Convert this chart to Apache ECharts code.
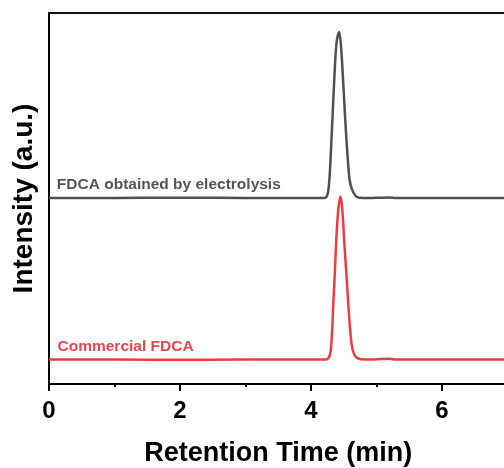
<!DOCTYPE html>
<html><head><meta charset="utf-8">
<script src="https://cdn.jsdelivr.net/npm/echarts@6/dist/echarts.min.js"></script>
<style>html,body{margin:0;padding:0;background:#fff}#c{width:504px;height:468px}</style>
</head><body><div id="c"></div>
<script>
// Retention time (min) and intensity (a.u., traces offset vertically as in the figure)
var grayTime = [0, 1, 2, 3, 4, 4.2, 4.25, 4.28, 4.31, 4.33, 4.36, 4.39, 4.43, 4.46, 4.49, 4.52, 4.55, 4.59, 4.63, 4.7, 4.8, 5.2, 5.3, 6, 7];
var grayIntensity = [186, 186, 186.3, 186, 186, 186, 189, 204, 241, 269, 311, 341, 352, 336, 304, 268, 236, 204, 194, 187, 186, 186.6, 186, 186, 186];
var redTime = [0, 1, 2, 3, 4, 4.22, 4.28, 4.31, 4.34, 4.36, 4.39, 4.42, 4.45, 4.48, 4.51, 4.545, 4.58, 4.62, 4.66, 4.72, 4.82, 5.2, 5.3, 6, 7];
var redIntensity = [24.5, 24.5, 24.2, 24.5, 24.5, 24.5, 27.5, 39.5, 79.5, 105.5, 149.5, 176.5, 187.5, 172.5, 139.5, 105.5, 69.5, 39.5, 29.5, 25.5, 24.5, 25.2, 24.5, 24.5, 24.5];
var xTicks = [0, 2, 4, 6];
var seriesNames = ['FDCA obtained by electrolysis', 'Commercial FDCA'];
var labelAnchors = [[0.12, 199.5], [0.13, 37.5]];

function pairs(xs, ys) { return xs.map(function (x, i) { return [x, ys[i]]; }); }

var chart = echarts.init(document.getElementById('c'), null, { renderer: 'canvas' });
var font = 'Liberation Sans, Arial, Helvetica, sans-serif';
var colors = ['#505050', '#ee3b40'];
var textColors = ['#555555', '#e8464a'];

chart.setOption({
  animation: false,
  grid: { left: 49, top: 13, width: 458.5, height: 371, containLabel: false, outerBoundsMode: 'none' },
  xAxis: [{
    type: 'value', min: 0, max: 7, interval: 2,
    name: 'Retention Time (min)', nameLocation: 'middle', nameGap: 56,
    nameTextStyle: { fontFamily: font, fontWeight: 'bold', fontSize: 27, color: '#000' },
    axisLine: { show: true, lineStyle: { color: '#000', width: 2 } },
    axisTick: { show: true, length: 7, lineStyle: { color: '#000', width: 2 } },
    minorTick: { show: true, splitNumber: 2, length: 3, lineStyle: { color: '#000', width: 2 } },
    axisLabel: { fontFamily: font, fontWeight: 'bold', fontSize: 24, color: '#000', margin: 15,
      formatter: function (v) { return xTicks.indexOf(v) >= 0 ? String(v) : ''; } },
    splitLine: { show: false }
  }, {
    type: 'value', min: 0, max: 7, position: 'top',
    axisLine: { show: true, lineStyle: { color: '#111', width: 2 } },
    axisTick: { show: false }, axisLabel: { show: false }, splitLine: { show: false }
  }],
  yAxis: {
    type: 'value', min: 0, max: 371,
    name: 'Intensity (a.u.)', nameLocation: 'middle', nameGap: 11, nameRotate: 90,
    nameTextStyle: { fontFamily: font, fontWeight: 'bold', fontSize: 28, color: '#000' },
    axisLine: { show: true, lineStyle: { color: '#000', width: 2 } },
    axisTick: { show: false }, axisLabel: { show: false }, splitLine: { show: false }
  },
  series: [{
    name: seriesNames[0], type: 'line', data: pairs(grayTime, grayIntensity),
    showSymbol: false, smooth: 0.35, lineStyle: { color: colors[0], width: 2.5 }
  }, {
    name: seriesNames[1], type: 'line', data: pairs(redTime, redIntensity),
    showSymbol: false, smooth: 0.35, lineStyle: { color: colors[1], width: 2.5 }
  }]
});

var g = seriesNames.map(function (n, i) {
  var p = chart.convertToPixel({ gridIndex: 0 }, labelAnchors[i]);
  return { type: 'text', x: p[0], y: p[1],
    style: { text: n, fontFamily: font, fontWeight: 'bold', fontSize: 15.5, fill: textColors[i],
      textAlign: 'left', textVerticalAlign: 'middle' } };
});
chart.setOption({ graphic: g });
</script></body></html>
